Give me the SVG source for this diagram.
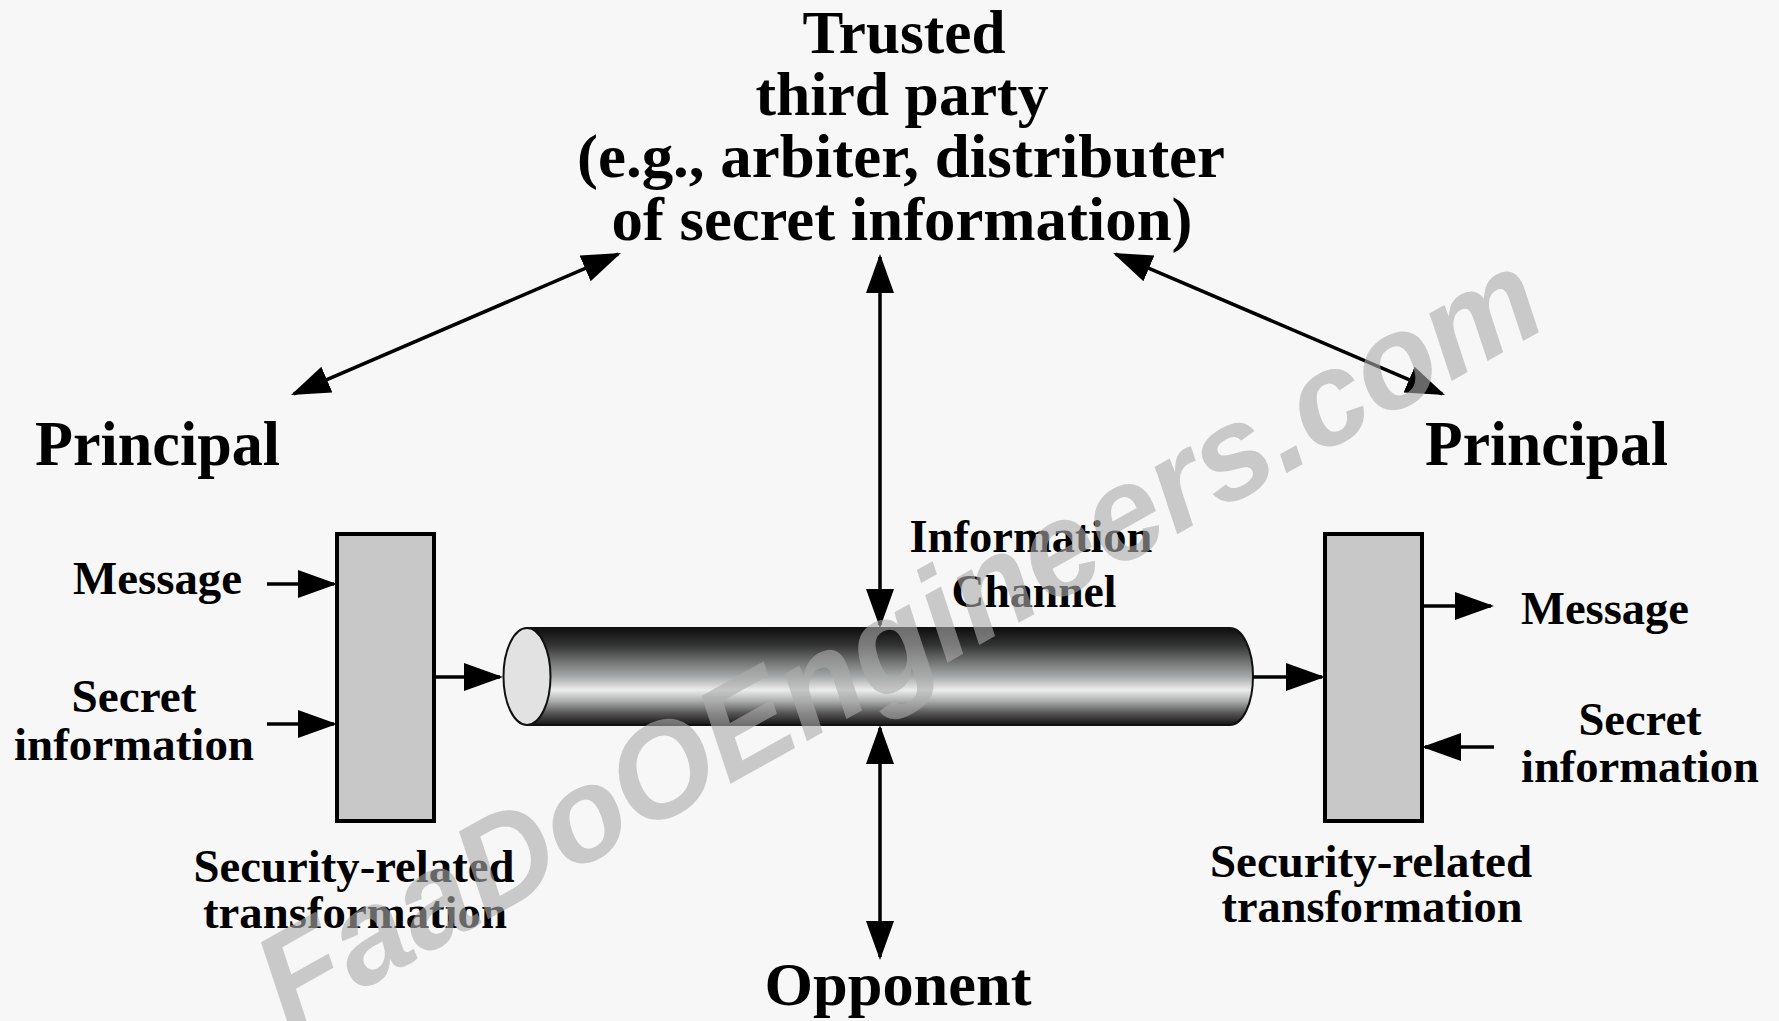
<svg xmlns="http://www.w3.org/2000/svg" width="1779" height="1021" viewBox="0 0 1779 1021">
  <style>
    .lbl { font-family: "Liberation Serif", "Times New Roman", serif; font-weight: bold; fill: #000; text-anchor: middle; }
    .big { font-size: 61px; }
    .mid { font-size: 46px; }
    .box { fill: #c8c8c8; stroke: #000; stroke-width: 4; }
    .wire { stroke: #000; stroke-width: 3.5; fill: none; }
    .one { marker-end: url(#head); }
    .two { marker-start: url(#head); marker-end: url(#head); }
    .mark { font-family: "Liberation Sans", Arial, sans-serif; font-weight: bold; font-style: italic; font-size: 132px; fill: #acacac; opacity: 0.6; text-anchor: middle; }
  </style>
  <defs>
    <marker id="head" markerUnits="userSpaceOnUse" markerWidth="40" markerHeight="30" viewBox="0 0 40 30" refX="36" refY="15" orient="auto-start-reverse">
      <path d="M0,1 L39,15 L0,29 Z" fill="#000"/>
    </marker>
    <linearGradient id="pipe" x1="0" y1="0" x2="0" y2="1">
      <stop offset="0" stop-color="#0e0e0e"/>
      <stop offset="0.18" stop-color="#343434"/>
      <stop offset="0.35" stop-color="#727474"/>
      <stop offset="0.5" stop-color="#a6a9a9"/>
      <stop offset="0.64" stop-color="#ececec"/>
      <stop offset="0.75" stop-color="#aeb0b0"/>
      <stop offset="0.87" stop-color="#5a5a5a"/>
      <stop offset="1" stop-color="#151515"/>
    </linearGradient>
  </defs>

  <rect width="1779" height="1021" fill="#f7f7f7"/>

  <!-- trusted third party -->
  <g id="trusted-party">
    <text class="lbl big" x="904" y="53" textLength="203" lengthAdjust="spacingAndGlyphs">Trusted</text>
    <text class="lbl big" x="902" y="115" textLength="293" lengthAdjust="spacingAndGlyphs">third party</text>
    <text class="lbl big" x="901" y="177" textLength="648" lengthAdjust="spacingAndGlyphs">(e.g., arbiter, distributer</text>
    <text class="lbl big" x="902" y="240" textLength="581" lengthAdjust="spacingAndGlyphs">of secret information)</text>
  </g>

  <!-- principals -->
  <g id="principal-left">
    <text class="lbl" font-size="63" x="157.5" y="465" textLength="245" lengthAdjust="spacingAndGlyphs">Principal</text>
  </g>
  <g id="principal-right">
    <text class="lbl" font-size="63" x="1546.5" y="465" textLength="243" lengthAdjust="spacingAndGlyphs">Principal</text>
  </g>

  <!-- inputs on the sending side -->
  <g id="message-in">
    <text class="lbl mid" x="157.5" y="594" textLength="169" lengthAdjust="spacingAndGlyphs">Message</text>
  </g>
  <g id="secret-left">
    <text class="lbl mid" x="134" y="712" textLength="125" lengthAdjust="spacingAndGlyphs">Secret</text>
    <text class="lbl mid" x="134" y="760" textLength="240" lengthAdjust="spacingAndGlyphs">information</text>
  </g>

  <!-- transformation boxes -->
  <g id="transform-left">
    <rect class="box" x="337" y="534" width="97" height="287"/>
    <text class="lbl mid" x="354" y="882" textLength="321" lengthAdjust="spacingAndGlyphs">Security-related</text>
    <text class="lbl mid" x="355" y="928" textLength="304" lengthAdjust="spacingAndGlyphs">transformation</text>
  </g>
  <g id="transform-right">
    <rect class="box" x="1325" y="534" width="97" height="287"/>
    <text class="lbl mid" x="1371" y="877" textLength="322" lengthAdjust="spacingAndGlyphs">Security-related</text>
    <text class="lbl mid" x="1372" y="922" textLength="301" lengthAdjust="spacingAndGlyphs">transformation</text>
  </g>

  <!-- outputs on the receiving side -->
  <g id="message-out">
    <text class="lbl mid" x="1605" y="624" textLength="168" lengthAdjust="spacingAndGlyphs">Message</text>
  </g>
  <g id="secret-right">
    <text class="lbl mid" x="1640" y="735" textLength="123" lengthAdjust="spacingAndGlyphs">Secret</text>
    <text class="lbl mid" x="1640" y="782" textLength="238" lengthAdjust="spacingAndGlyphs">information</text>
  </g>

  <!-- information channel: shaded pipe -->
  <g id="channel">
    <path d="M527,628 H1230 A23,48.5 0 0 1 1230,725 H527 Z" fill="url(#pipe)" stroke="#111" stroke-width="2"/>
    <ellipse cx="527" cy="676.5" rx="23.5" ry="48.5" fill="#e2e2e2" stroke="#111" stroke-width="2"/>
    <text class="lbl mid" x="1031" y="552" textLength="243" lengthAdjust="spacingAndGlyphs">Information</text>
    <text class="lbl mid" x="1034" y="607" textLength="165" lengthAdjust="spacingAndGlyphs">Channel</text>
  </g>

  <!-- opponent -->
  <g id="opponent">
    <text class="lbl" font-size="62" x="898" y="1005" textLength="267" lengthAdjust="spacingAndGlyphs">Opponent</text>
  </g>

  <!-- connectors -->
  <g id="connectors">
    <line class="wire one" x1="267" y1="584" x2="334" y2="584"/>
    <line class="wire one" x1="267" y1="724" x2="334" y2="724"/>
    <line class="wire one" x1="434" y1="677" x2="500" y2="677"/>
    <line class="wire one" x1="1253" y1="677" x2="1322" y2="677"/>
    <line class="wire one" x1="1422" y1="606" x2="1491" y2="606"/>
    <line class="wire one" x1="1494" y1="747" x2="1425" y2="747"/>
    <line class="wire two" x1="880" y1="257" x2="880" y2="625"/>
    <line class="wire two" x1="880" y1="728" x2="880" y2="957"/>
    <line class="wire two" x1="618.2" y1="254.2" x2="293.8" y2="393.8"/>
    <line class="wire two" x1="1115.8" y1="254.2" x2="1442.2" y2="393.8"/>
  </g>

  <!-- site mark laid over the figure -->
  <text class="mark" transform="translate(920,678) rotate(-29.2)" textLength="1448" lengthAdjust="spacingAndGlyphs">FaaDoOEngineers.com</text>
</svg>
